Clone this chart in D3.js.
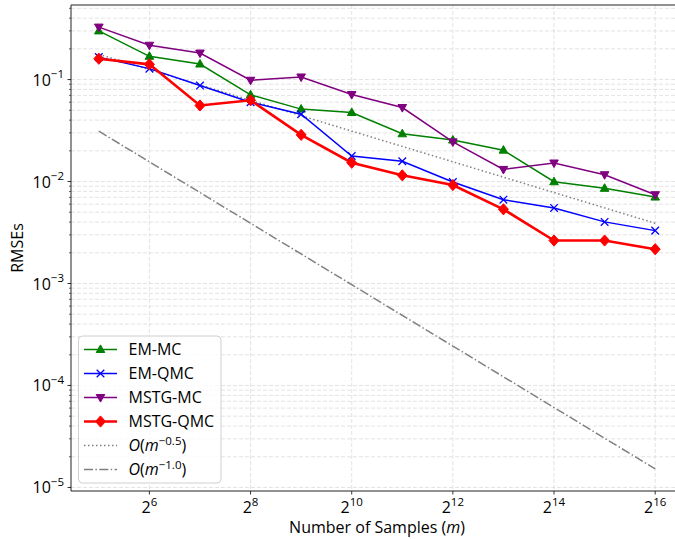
<!DOCTYPE html>
<html>
<head>
<meta charset="utf-8">
<script src="https://cdn.jsdelivr.net/npm/d3@7"></script>
<style>
  body { margin: 0; background: #fff; }
  text { font-family: "Open Sans", "Noto Sans", sans-serif; fill: #000; }
</style>
</head>
<body>
<div id="chart"></div>
<script>
// sample counts as powers of two
var exponents = [5, 6, 7, 8, 9, 10, 11, 12, 13, 14, 15, 16]

var emMC   = [0.300, 0.169, 0.142, 0.0708, 0.0513, 0.0475, 0.0294, 0.0255, 0.0203, 0.00995, 0.00858, 0.00704]
var emQMC  = [0.166, 0.128, 0.0873, 0.0600, 0.0457, 0.0178, 0.0158, 0.00988, 0.00664, 0.00551, 0.00402, 0.00330]
var mstgMC = [0.327, 0.217, 0.182, 0.0985, 0.106, 0.0713, 0.0532, 0.0245, 0.01315, 0.0152, 0.01167, 0.00743]
var mstgQMC = [0.160, 0.141, 0.0557, 0.0626, 0.0287, 0.0153, 0.0115, 0.00924, 0.00534, 0.00264, 0.00264, 0.00217]

// reference slopes, end points
var refExp = [5, 16]
var refHalf = [0.177, 0.0039]
var refOne = [0.0312, 0.0000152]

var xTicks = [6, 8, 10, 12, 14, 16]
var yTicks = [-5, -4, -3, -2, -1]

var width = 675, height = 539
var margin = { left: 71, top: 5, right: -8, bottom: 48 }

var svg = d3.select("#chart").append("svg")
    .attr("width", width)
    .attr("height", height)

var series = [
    { name: "EM-MC", values: emMC, color: "green", lw: 1.5, marker: "tri-up" },
    { name: "EM-QMC", values: emQMC, color: "blue", lw: 1.5, marker: "x" },
    { name: "MSTG-MC", values: mstgMC, color: "purple", lw: 1.5, marker: "tri-down" },
    { name: "MSTG-QMC", values: mstgQMC, color: "red", lw: 2.6, marker: "diamond" }
]

// matplotlib-like 5% margins in log space
var allY = emMC.concat(emQMC, mstgMC, mstgQMC, refHalf, refOne)
var lyMin = Math.log10(d3.min(allY)), lyMax = Math.log10(d3.max(allY))
var padY = (lyMax - lyMin) * 0.05
var lxMin = d3.min(exponents), lxMax = d3.max(exponents)
var padX = (lxMax - lxMin) * 0.05

var x = d3.scaleLog().base(2)
    .domain([Math.pow(2, lxMin - padX), Math.pow(2, lxMax + padX)])
    .range([margin.left, width - margin.right])
var y = d3.scaleLog()
    .domain([Math.pow(10, lyMin - padY), Math.pow(10, lyMax + padY)])
    .range([height - margin.bottom, margin.top])

var x0 = margin.left, x1 = width - margin.right
var yTop = margin.top, yBot = height - margin.bottom

svg.append("clipPath").attr("id", "clip")
    .append("rect").attr("x", x0).attr("y", yTop).attr("width", x1 - x0).attr("height", yBot - yTop)

// grid
var grid = svg.append("g").attr("clip-path", "url(#clip)")
var minorY = []
for (var e = -6; e <= 0; e++) {
    for (var k = 1; k <= 9; k++) minorY.push(k * Math.pow(10, e))
}
minorY = minorY.filter(v => v >= y.domain()[0] && v <= y.domain()[1])
grid.selectAll(".gy").data(minorY).enter().append("line")
    .attr("x1", x0).attr("x2", x1)
    .attr("y1", d => y(d)).attr("y2", d => y(d))
    .attr("stroke", "#dcdcdc").attr("stroke-width", 0.8).attr("stroke-dasharray", "4,2")
grid.selectAll(".gx").data(xTicks).enter().append("line")
    .attr("x1", d => x(Math.pow(2, d))).attr("x2", d => x(Math.pow(2, d)))
    .attr("y1", yTop).attr("y2", yBot)
    .attr("stroke", "#dcdcdc").attr("stroke-width", 0.8).attr("stroke-dasharray", "4,2")

// reference lines
var refLine = d3.line().x(d => x(Math.pow(2, d[0]))).y(d => y(d[1]))
var plot = svg.append("g").attr("clip-path", "url(#clip)")
plot.append("path")
    .datum(refExp.map((e, i) => [e, refHalf[i]]))
    .attr("d", refLine).attr("fill", "none")
    .attr("stroke", "gray").attr("stroke-width", 1.5).attr("stroke-dasharray", "1.5,2.5")
plot.append("path")
    .datum(refExp.map((e, i) => [e, refOne[i]]))
    .attr("d", refLine).attr("fill", "none")
    .attr("stroke", "gray").attr("stroke-width", 1.5).attr("stroke-dasharray", "9,2.4,1.5,2.4")

function markerPath(type) {
    if (type === "tri-up") return "M0,-4.6L4.3,3L-4.3,3Z"
    if (type === "tri-down") return "M0,4.6L4.3,-3L-4.3,-3Z"
    if (type === "diamond") return "M0,-5.6L5,0L0,5.6L-5,0Z"
    return "M-3.8,-3.8L3.8,3.8M-3.8,3.8L3.8,-3.8"
}

function drawMarker(g, s) {
    g.append("path")
        .attr("d", markerPath(s.marker))
        .attr("fill", s.marker === "x" ? "none" : s.color)
        .attr("stroke", s.color)
        .attr("stroke-width", s.marker === "x" ? 1.3 : 1)
}

var line = d3.line().x((d, i) => x(Math.pow(2, exponents[i]))).y(d => y(d))
series.forEach(s => {
    plot.append("path")
        .datum(s.values)
        .attr("d", line)
        .attr("fill", "none")
        .attr("stroke", s.color)
        .attr("stroke-width", s.lw)
    s.values.forEach((v, i) => {
        var g = plot.append("g").attr("transform", "translate(" + x(Math.pow(2, exponents[i])) + "," + y(v) + ")")
        drawMarker(g, s)
    })
})

// spines
svg.append("line").attr("x1", x0).attr("x2", x0).attr("y1", yTop).attr("y2", yBot)
    .attr("stroke", "#222").attr("stroke-width", 1)
svg.append("line").attr("x1", x0).attr("x2", x1).attr("y1", yBot).attr("y2", yBot)
    .attr("stroke", "#222").attr("stroke-width", 1)
svg.append("line").attr("x1", x0).attr("x2", x1).attr("y1", yTop).attr("y2", yTop)
    .attr("stroke", "#222").attr("stroke-width", 1)

// y ticks
svg.selectAll(".ymin").data(minorY).enter().append("line")
    .attr("x1", x0 - 2).attr("x2", x0)
    .attr("y1", d => y(d)).attr("y2", d => y(d))
    .attr("stroke", "#222").attr("stroke-width", 0.7)
var yt = svg.selectAll(".ytick").data(yTicks).enter().append("g")
    .attr("transform", d => "translate(0," + y(Math.pow(10, d)) + ")")
yt.append("line").attr("x1", x0 - 3.5).attr("x2", x0).attr("stroke", "#222").attr("stroke-width", 0.9)
var ytt = yt.append("text").attr("x", x0 - 7).attr("y", 6).attr("text-anchor", "end").style("font-size", "16px")
ytt.append("tspan").text("10")
ytt.append("tspan").attr("dy", -7.5).style("font-size", "11.5px").text(d => "\u2212" + Math.abs(d))

// x ticks
var xt = svg.selectAll(".xtick").data(xTicks).enter().append("g")
    .attr("transform", d => "translate(" + x(Math.pow(2, d)) + ",0)")
xt.append("line").attr("y1", yBot).attr("y2", yBot + 3.5).attr("stroke", "#222").attr("stroke-width", 0.9)
var xtt = xt.append("text").attr("y", yBot + 22).attr("text-anchor", "middle").style("font-size", "16px")
xtt.append("tspan").text("2")
xtt.append("tspan").attr("dy", -7.5).style("font-size", "11.5px").text(d => d)

// axis labels
var xl = svg.append("text").attr("x", (x0 + x1) / 2).attr("y", 533)
    .attr("text-anchor", "middle").style("font-size", "16px")
xl.append("tspan").text("Number of Samples (")
xl.append("tspan").style("font-style", "italic").text("m")
xl.append("tspan").text(")")
svg.append("text").attr("transform", "translate(23," + (yTop + yBot) / 2 + ") rotate(-90)")
    .attr("text-anchor", "middle").style("font-size", "16px").text("RMSEs")

// legend
var leg = svg.append("g")
leg.append("rect").attr("x", 78.5).attr("y", 336).attr("width", 142.5).attr("height", 147)
    .attr("rx", 4).attr("fill", "white").attr("fill-opacity", 0.8)
    .attr("stroke", "#d0d0d0").attr("stroke-width", 1)
var legItems = series.map(s => ({ label: [s.name], s: s })).concat([
    { ref: "half" }, { ref: "one" }
])
legItems.forEach((it, i) => {
    var ly = 349.5 + i * 24
    var g = leg.append("g").attr("transform", "translate(0," + ly + ")")
    if (it.s) {
        g.append("line").attr("x1", 84).attr("x2", 117).attr("stroke", it.s.color).attr("stroke-width", it.s.lw)
        drawMarker(g.append("g").attr("transform", "translate(100.5,0)"), it.s)
        g.append("text").attr("x", 128.5).attr("y", 5.5).style("font-size", "16px").text(it.s.name)
    } else {
        g.append("line").attr("x1", 84).attr("x2", 117).attr("stroke", "gray").attr("stroke-width", 1.5)
            .attr("stroke-dasharray", it.ref === "half" ? "1.5,2.5" : "9,2.4,1.5,2.4")
        var t = g.append("text").attr("x", 128.5).attr("y", 5.5).style("font-size", "16px")
        t.append("tspan").style("font-style", "italic").text("O")
        t.append("tspan").text("(")
        t.append("tspan").style("font-style", "italic").text("m")
        t.append("tspan").attr("dy", -6.5).style("font-size", "11.5px").text(it.ref === "half" ? "\u22120.5" : "\u22121.0")
        t.append("tspan").attr("dy", 6.5).text(")")
    }
})
</script>
</body>
</html>
